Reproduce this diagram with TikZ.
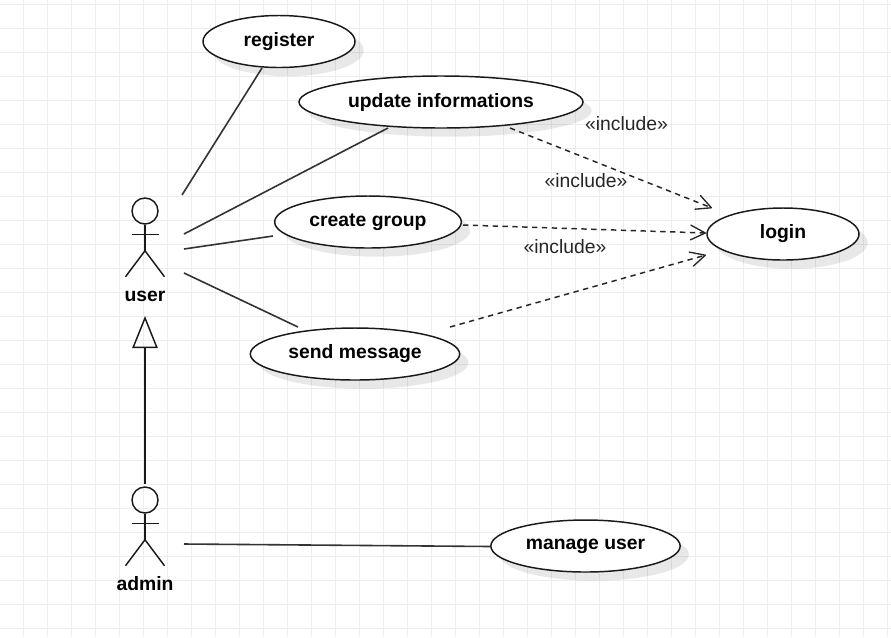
\documentclass[tikz,border=0pt]{standalone}
\usepackage{fontspec}
\setmainfont{Liberation Sans}
\usetikzlibrary{positioning, arrows.meta, calc, shapes.geometric, shadows}

\begin{document}
\begin{tikzpicture}[
    x=0.75pt, y=-0.75pt,
    >=Stealth,
    usecase/.style={
        ellipse, draw=black!90, fill=white, line width=1.1pt, inner sep=0pt,
        minimum height=39pt, align=center,
        font=\fontsize{14.5}{17}\selectfont\bfseries,
        drop shadow={shadow xshift=6.5pt, shadow yshift=-6.5pt, fill=black, opacity=0.09}
    },
    head/.style={
        circle, draw=black!90, line width=1.1pt, inner sep=0pt, minimum size=19.5pt
    },
    actorname/.style={
        font=\fontsize{14.5}{17}\selectfont\bfseries, inner sep=0pt
    },
    stereo/.style={
        font=\fontsize{14.5}{17}\selectfont, text=black!85, inner sep=0pt
    },
    limb/.style={line width=1.1pt, black!90},
    assoc/.style={line width=1.2pt, black!80},
    incl/.style={line width=1.1pt, black!85, dash pattern=on 4pt off 3.4pt,
        -{Straight Barb[length=11pt, width=11pt, line width=1pt, round=false]}},
    gen/.style={line width=1.1pt, black!90,
        -{Triangle[open, length=24pt, width=19pt, fill=none, line width=1.1pt]}},
    gridline/.style={line width=0.75pt, black!7},
]

% Background grid
\useasboundingbox (0,0) rectangle (891,637);
\fill[white] (0,0) rectangle (891,637);
\foreach \gx in {23.5,47.5,...,887.5}
    \draw[gridline] (\gx,0) -- (\gx,637);
\foreach \gy in {4,28,...,628}
    \draw[gridline] (0,\gy) -- (891,\gy);

% Use cases
\node[usecase, minimum width=114pt] (register) at (279,41.5) {register};
\node[usecase, minimum width=213pt] (update) at (441,102) {update informations};
\node[usecase, minimum width=140pt] (group) at (368,222) {create group};
\node[usecase, minimum width=157pt] (message) at (355,354) {send message};
\node[usecase, minimum width=114pt] (login) at (783,234) {login};
\node[usecase, minimum width=142pt] (manage) at (585.5,546) {manage user};

% Actors
\node[head] (user) at (145,211) {};
\node[head] (admin) at (145,500) {};
\node[actorname] (userlabel) at (145,296) {user};
\node[actorname] (adminlabel) at (145,584) {admin};

\foreach \who in {user, admin} {
    \coordinate (\who_hip) at ($(\who.south)+(0,26)$);
    \draw[limb] (\who.south) -- (\who_hip);
    \draw[limb] ($(\who.south)+(-13.5,10)$) -- ($(\who.south)+(13.5,10)$);
    \draw[limb] ($(\who_hip)+(-19.5,26)$) -- (\who_hip) -- ($(\who_hip)+(19.5,26)$);
}

% Free ends beside the actors
\coordinate (user_a) at (182,195);
\coordinate (user_b) at (184,234);
\coordinate (user_c) at (184,249);
\coordinate (user_d) at (184,273);
\coordinate (admin_a) at (184,544);
\coordinate (gen_from) at (145,484);
\coordinate (gen_to) at (145,316);

% Free ends beside the use cases
\coordinate (register_in) at (262,68);
\coordinate (update_in) at (388,128);
\coordinate (group_in) at (273,236);
\coordinate (message_in) at (298,327);
\coordinate (manage_in) at (491,546.5);
\coordinate (update_out) at (510,128);
\coordinate (group_out) at (463,225);
\coordinate (message_out) at (450,327);
\coordinate (login_a) at (712,208);
\coordinate (login_b) at (706,233);
\coordinate (login_c) at (706,255);

% Associations
\draw[assoc] (user_a) -- (register_in);
\draw[assoc] (user_b) -- (update_in);
\draw[assoc] (user_c) -- (group_in);
\draw[assoc] (user_d) -- (message_in);
\draw[assoc] (admin_a) -- (manage_in);

% Generalization
\draw[gen] (gen_from) -- (gen_to);

% Includes
\draw[incl] (update_out) -- (login_a);
\draw[incl] (group_out) -- (login_b);
\draw[incl] (message_out) -- (login_c);

\node[stereo] (incl_a) at (626.5,124) {«include»};
\node[stereo] (incl_b) at (586,181) {«include»};
\node[stereo] (incl_c) at (565,247) {«include»};

\end{tikzpicture}
\end{document}
